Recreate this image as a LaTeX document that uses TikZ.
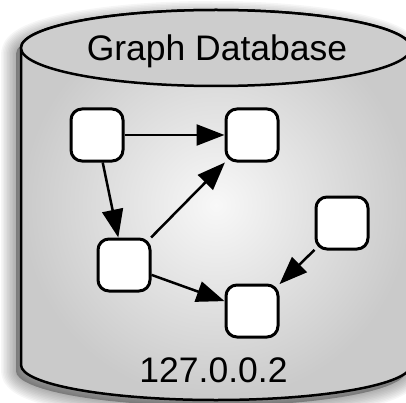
\documentclass[tikz,border=0pt]{standalone}
\usepackage{fontspec}
\setsansfont{Liberation Sans}
\usetikzlibrary{arrows.meta,positioning}
\definecolor{dbtop}{RGB}{205,205,205}
\definecolor{dbin}{RGB}{248,248,248}
\definecolor{dbout}{RGB}{202,202,202}
\tikzstyle{vertex}=[draw, fill=white, line width=3pt, rounded corners=11pt, minimum size=52pt, inner sep=0pt]
\tikzstyle{link}=[line width=2.5pt, -{Triangle[length=28pt,width=21pt]}]
\tikzstyle{label}=[font=\sffamily\fontsize{35.5}{40}\selectfont, anchor=base]
\def\cylbody{(21,354) -- (21,37) arc (180:360:195 and 35) -- (411,354) arc (0:180:195 and 38) -- cycle}
\begin{document}
\begin{tikzpicture}[x=1pt,y=1pt,node distance=155pt,auto]
    \useasboundingbox (0,0) rectangle (406,402);
    % soft shadow
    \foreach \w in {30,27,...,3}
        \path[draw=black, fill=black, opacity=0.035, line width=\w pt, line join=round, shift={(-5pt,-6pt)}] \cylbody;
    % cylinder
    \shade[inner color=dbin, outer color=dbout] \cylbody;
    \draw[line width=2.5pt] \cylbody;
    \draw[line width=2.5pt, fill=dbtop] (216,354) ellipse (195 and 38);
    \node[label] (title) at (217,341) {Graph Database};
    \node[label] (ip) at (213.5,20) {127.0.0.2};
    % graph
    \node [vertex] (a) at (97,267) {};
    \node [vertex] (b) [right of=a] {};
    \node [vertex] (c) [below of=a, node distance=130pt, xshift=27pt] {};
    \node [vertex] (d) [below of=b, node distance=176pt] {};
    \node [vertex] (e) [right of=d, node distance=90pt, yshift=88pt] {};
    \path[link]
    (a) edge (b)
    (a) edge (c)
    (c) edge (b)
    (c) edge (d)
    (e) edge (d);
\end{tikzpicture}
\end{document}
